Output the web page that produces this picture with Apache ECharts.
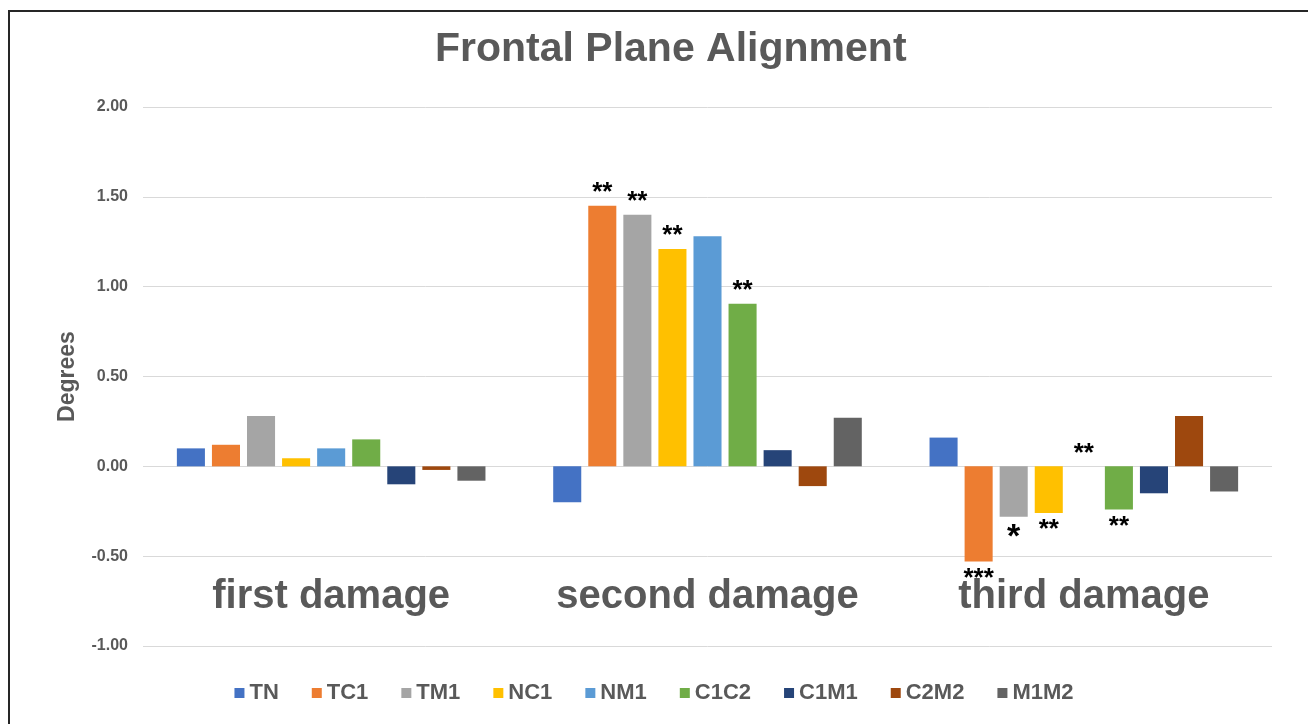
<!DOCTYPE html>
<html>
<head>
<meta charset="utf-8">
<script src="https://cdn.jsdelivr.net/npm/echarts@6/dist/echarts.min.js"></script>
<style>
  html, body { margin: 0; padding: 0; background: #fff; }
  #chart { width: 1308px; height: 724px; position: absolute; left: 0; top: 0; }
  #frame { position: absolute; left: 8px; top: 10px; width: 1400px; height: 800px;
           border-left: 2px solid #262626; border-top: 2px solid #262626; pointer-events: none; }
</style>
</head>
<body>
<div id="chart"></div>
<div id="frame"></div>
<script>
const categories = ['first damage', 'second damage', 'third damage'];
const seriesNames = ['TN', 'TC1', 'TM1', 'NC1', 'NM1', 'C1C2', 'C1M1', 'C2M2', 'M1M2'];
const colors = ['#4472C4', '#ED7D31', '#A5A5A5', '#FFC000', '#5B9BD5', '#70AD47', '#264478', '#9E480E', '#636363'];

const TN   = [0.10, -0.20, 0.16];
const TC1  = [0.12, 1.45, -0.53];
const TM1  = [0.28, 1.40, -0.28];
const NC1  = [0.045, 1.21, -0.26];
const NM1  = [0.10, 1.28, 0.00];
const C1C2 = [0.15, 0.905, -0.24];
const C1M1 = [-0.10, 0.09, -0.15];
const C2M2 = [-0.02, -0.11, 0.28];
const M1M2 = [-0.08, 0.27, -0.14];

// significance marks per series per category
const sigTN   = ['', '', ''];
const sigTC1  = ['', '**', '***'];
const sigTM1  = ['', '**', '*'];
const sigNC1  = ['', '**', '**'];
const sigNM1  = ['', '', '**'];
const sigC1C2 = ['', '**', '**'];
const sigC1M1 = ['', '', ''];
const sigC2M2 = ['', '', ''];
const sigM1M2 = ['', '', ''];

const yTicks = { min: -1, max: 2, interval: 0.5 };

const values = [TN, TC1, TM1, NC1, NM1, C1C2, C1M1, C2M2, M1M2];
const sigs = [sigTN, sigTC1, sigTM1, sigNC1, sigNM1, sigC1C2, sigC1M1, sigC2M2, sigM1M2];

const series = seriesNames.map((name, i) => ({
  name: name,
  type: 'bar',
  barGap: '25%',
  barCategoryGap: '18%',
  itemStyle: { color: colors[i] },
  data: values[i].map((v, j) => {
    const s = sigs[i][j];
    const item = { value: v };
    if (s) {
      item.label = {
        show: true,
        formatter: s,
        position: v < 0 ? 'bottom' : 'top',
        distance: v < 0 ? 4 : 0,
        color: '#000',
        fontFamily: 'Liberation Sans',
        fontWeight: 'bold',
        fontSize: s === '*' ? 34 : 26,
        lineHeight: s === '*' ? 34 : 26
      };
    }
    return item;
  })
}));

const chart = echarts.init(document.getElementById('chart'), null, { renderer: 'canvas' });
chart.setOption({
  animation: false,
  backgroundColor: '#fff',
  title: {
    text: 'Frontal Plane Alignment',
    left: 430,
    top: 24,
    textStyle: { fontFamily: 'Liberation Sans', fontWeight: 'bold', fontSize: 41, color: '#595959' }
  },
  legend: {
    bottom: 15,
    left: 'center',
    icon: 'rect',
    itemWidth: 10,
    itemHeight: 10,
    itemGap: 33,
    textStyle: { fontFamily: 'Liberation Sans', fontWeight: 'bold', fontSize: 22, color: '#595959' },
    data: seriesNames
  },
  grid: { left: 143, right: 36, top: 107, bottom: 78, containLabel: false },
  xAxis: {
    type: 'category',
    data: categories,
    axisLine: { show: false, onZero: false },
    axisTick: { show: false },
    axisLabel: {
      interval: 0,
      hideOverlap: false,
      margin: -49,
      verticalAlign: 'middle',
      fontFamily: 'Liberation Sans',
      fontWeight: 'bold',
      fontSize: 40,
      color: '#595959'
    }
  },
  yAxis: {
    type: 'value',
    min: yTicks.min,
    max: yTicks.max,
    interval: yTicks.interval,
    name: 'Degrees',
    nameLocation: 'middle',
    nameGap: 64,
    nameTextStyle: { fontFamily: 'Liberation Sans', fontWeight: 'bold', fontSize: 23, color: '#595959' },
    axisLine: { show: false },
    axisTick: { show: false },
    splitLine: { lineStyle: { color: '#D9D9D9', width: 1 } },
    axisLabel: {
      margin: 15,
      formatter: v => v.toFixed(2),
      fontFamily: 'Liberation Sans',
      fontWeight: 'bold',
      fontSize: 16,
      color: '#595959'
    }
  },
  series: series
});
</script>
</body>
</html>
